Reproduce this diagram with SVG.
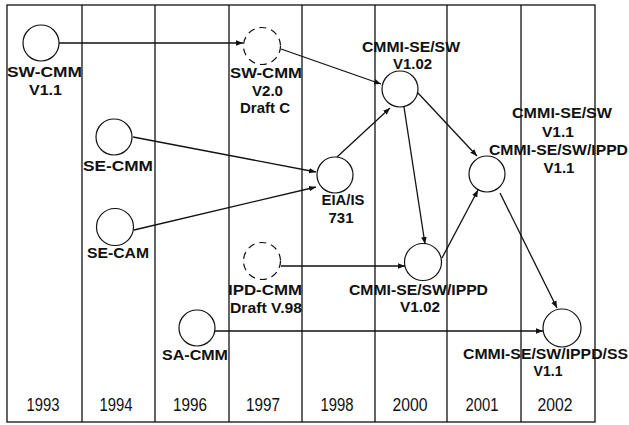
<svg xmlns="http://www.w3.org/2000/svg" width="629" height="425" viewBox="0 0 629 425">
<style>
.grid{stroke:#111;stroke-width:1.3;fill:none}
.node{fill:none;stroke:#111;stroke-width:1.2}
.dash{stroke-dasharray:7 5}
.lbl{font-family:"Liberation Sans",Arial,sans-serif;font-size:15px;font-weight:bold;fill:#111;text-anchor:middle}
.yr{font-family:"Liberation Sans",Arial,sans-serif;font-size:18px;fill:#111;text-anchor:middle}
.con{stroke:#111;stroke-width:1.3;fill:none;marker-end:url(#ah)}
</style>
<defs>
<marker id="ah" viewBox="0 0 10 10" refX="10" refY="5" markerWidth="7" markerHeight="7" markerUnits="userSpaceOnUse" orient="auto">
<path d="M0,1 L10,5 L0,9 z" fill="#111"/>
</marker>
</defs>
<rect width="629" height="425" fill="#fff"/>
<g id="grid">
<rect class="grid" x="7" y="5" width="588" height="417"/>
<line class="grid" x1="82" y1="5" x2="82" y2="422"/>
<line class="grid" x1="155" y1="5" x2="155" y2="422"/>
<line class="grid" x1="229" y1="5" x2="229" y2="422"/>
<line class="grid" x1="302" y1="5" x2="302" y2="422"/>
<line class="grid" x1="375" y1="5" x2="375" y2="422"/>
<line class="grid" x1="447" y1="5" x2="447" y2="422"/>
<line class="grid" x1="521" y1="5" x2="521" y2="422"/>
</g>
<g id="years">
<text class="yr" x="43" y="411" textLength="33" lengthAdjust="spacingAndGlyphs">1993</text>
<text class="yr" x="116" y="411" textLength="33" lengthAdjust="spacingAndGlyphs">1994</text>
<text class="yr" x="190" y="411" textLength="34" lengthAdjust="spacingAndGlyphs">1996</text>
<text class="yr" x="263" y="411" textLength="34" lengthAdjust="spacingAndGlyphs">1997</text>
<text class="yr" x="337" y="411" textLength="33" lengthAdjust="spacingAndGlyphs">1998</text>
<text class="yr" x="410" y="411" textLength="35" lengthAdjust="spacingAndGlyphs">2000</text>
<text class="yr" x="482" y="411" textLength="33" lengthAdjust="spacingAndGlyphs">2001</text>
<text class="yr" x="555" y="411" textLength="35" lengthAdjust="spacingAndGlyphs">2002</text>
</g>
<g id="connectors">
<line class="con" x1="59" y1="43" x2="243" y2="43"/>
<line class="con" x1="281" y1="49" x2="381" y2="84"/>
<line class="con" x1="133" y1="137" x2="316" y2="172"/>
<line class="con" x1="134" y1="230" x2="316" y2="187"/>
<line class="con" x1="337" y1="157" x2="390" y2="108"/>
<line class="con" x1="404" y1="107" x2="425" y2="244"/>
<line class="con" x1="418" y1="93" x2="477" y2="156"/>
<line class="con" x1="442" y1="258" x2="478" y2="190"/>
<line class="con" x1="500" y1="193" x2="557" y2="308"/>
<line class="con" x1="215" y1="331" x2="543" y2="331"/>
<line class="con" x1="281" y1="266" x2="405" y2="266"/>
</g>
<g id="sw-cmm-v11">
<circle class="node" cx="41" cy="43" r="18"/>
<text class="lbl" x="44.5" y="77" textLength="75" lengthAdjust="spacingAndGlyphs">SW-CMM</text>
<text class="lbl" x="45.5" y="95" textLength="33" lengthAdjust="spacingAndGlyphs">V1.1</text>
</g>
<g id="sw-cmm-v20">
<circle class="node dash" cx="262" cy="46" r="18.5"/>
<text class="lbl" x="266" y="78" textLength="72" lengthAdjust="spacingAndGlyphs">SW-CMM</text>
<text class="lbl" x="267.5" y="96" textLength="31" lengthAdjust="spacingAndGlyphs">V2.0</text>
<text class="lbl" x="265" y="113" textLength="50" lengthAdjust="spacingAndGlyphs">Draft C</text>
</g>
<g id="se-cmm">
<circle class="node" cx="114" cy="137" r="18"/>
<text class="lbl" x="118" y="171" textLength="70" lengthAdjust="spacingAndGlyphs">SE-CMM</text>
</g>
<g id="se-cam">
<circle class="node" cx="115" cy="227" r="18.5"/>
<text class="lbl" x="118" y="258" textLength="62" lengthAdjust="spacingAndGlyphs">SE-CAM</text>
</g>
<g id="ipd-cmm">
<circle class="node dash" cx="262" cy="261" r="18.5"/>
<text class="lbl" x="265" y="295" textLength="74" lengthAdjust="spacingAndGlyphs">IPD-CMM</text>
<text class="lbl" x="266" y="313" textLength="72" lengthAdjust="spacingAndGlyphs">Draft V.98</text>
</g>
<g id="sa-cmm">
<circle class="node" cx="197" cy="328" r="18"/>
<text class="lbl" x="195" y="360" textLength="66" lengthAdjust="spacingAndGlyphs">SA-CMM</text>
</g>
<g id="eia-is-731">
<circle class="node" cx="335" cy="175" r="18"/>
<text class="lbl" x="343" y="205" textLength="43" lengthAdjust="spacingAndGlyphs">EIA/IS</text>
<text class="lbl" x="341" y="223" textLength="25" lengthAdjust="spacingAndGlyphs">731</text>
</g>
<g id="cmmi-se-sw-v102">
<circle class="node" cx="400" cy="89" r="18"/>
<text class="lbl" x="411" y="52" textLength="98" lengthAdjust="spacingAndGlyphs">CMMI-SE/SW</text>
<text class="lbl" x="412.5" y="69" textLength="39" lengthAdjust="spacingAndGlyphs">V1.02</text>
</g>
<g id="cmmi-v11">
<circle class="node" cx="487" cy="174" r="18"/>
<text class="lbl" x="562" y="118" textLength="100" lengthAdjust="spacingAndGlyphs">CMMI-SE/SW</text>
<text class="lbl" x="558" y="137" textLength="32" lengthAdjust="spacingAndGlyphs">V1.1</text>
<text class="lbl" x="558.5" y="155" textLength="139" lengthAdjust="spacingAndGlyphs">CMMI-SE/SW/IPPD</text>
<text class="lbl" x="559" y="173" textLength="31" lengthAdjust="spacingAndGlyphs">V1.1</text>
</g>
<g id="cmmi-ippd-v102">
<circle class="node" cx="423" cy="262" r="18.5"/>
<text class="lbl" x="418.5" y="295" textLength="139" lengthAdjust="spacingAndGlyphs">CMMI-SE/SW/IPPD</text>
<text class="lbl" x="420" y="312" textLength="40" lengthAdjust="spacingAndGlyphs">V1.02</text>
</g>
<g id="cmmi-ippd-ss-v11">
<circle class="node" cx="562" cy="328" r="19"/>
<text class="lbl" x="545.5" y="359" textLength="165" lengthAdjust="spacingAndGlyphs" style="font-size:14px">CMMI-SE/SW/IPPD/SS</text>
<text class="lbl" x="548" y="376" textLength="29" lengthAdjust="spacingAndGlyphs" style="font-size:14px">V1.1</text>
</g>
</svg>
